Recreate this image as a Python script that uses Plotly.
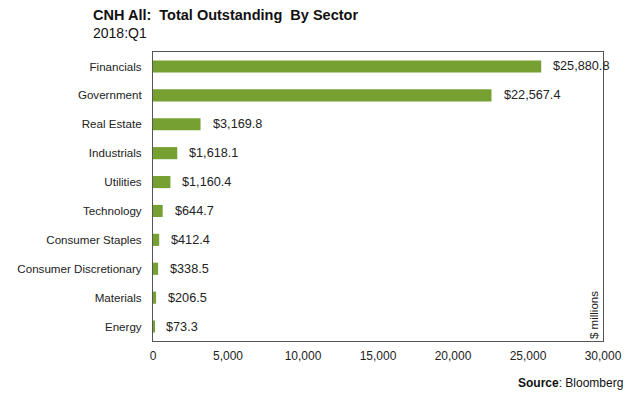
import plotly.graph_objects as go

sectors = [
    "Financials",
    "Government",
    "Real Estate",
    "Industrials",
    "Utilities",
    "Technology",
    "Consumer Staples",
    "Consumer Discretionary",
    "Materials",
    "Energy",
]
outstanding = [25880.8, 22567.4, 3169.8, 1618.1, 1160.4, 644.7, 412.4, 338.5, 206.5, 73.3]
x_ticks = [0, 5000, 10000, 15000, 20000, 25000, 30000]

font = "Liberation Sans, Arial, sans-serif"
green = "#77a033"
frame = "#555555"

fig = go.Figure(
    go.Bar(
        x=outstanding,
        y=sectors,
        orientation="h",
        width=0.42,
        marker=dict(color=green, line=dict(width=0)),
        hoverinfo="skip",
    )
)

for s, v in zip(sectors, outstanding):
    fig.add_annotation(
        x=v, y=s, text=f"${v:,.1f}", showarrow=False,
        xanchor="left", xshift=10, font=dict(size=12.7, color="#222222"),
    )

fig.add_annotation(
    xref="paper", yref="paper", x=1, y=0, text="$ millions", textangle=-90,
    showarrow=False, xanchor="right", yanchor="bottom", xshift=-1,
    font=dict(size=11.5, color="#222222"),
)
fig.add_annotation(
    xref="paper", yref="paper", x=-0.138, y=1.128, xanchor="left", yanchor="middle",
    text="<b>CNH All:  Total Outstanding  By Sector</b>", showarrow=False,
    font=dict(size=14.5, color="#111111"),
)
fig.add_annotation(
    xref="paper", yref="paper", x=-0.138, y=1.066, xanchor="left", yanchor="middle",
    text="2018:Q1", showarrow=False, font=dict(size=14, color="#111111"),
)
fig.add_annotation(
    xref="paper", yref="paper", x=1.049, y=-0.145, xanchor="right", yanchor="middle",
    text="<b>Source</b>: Bloomberg", showarrow=False, font=dict(size=12, color="#111111"),
)

fig.update_xaxes(
    range=[0, 30000], tickvals=x_ticks, tickformat=",d", showgrid=False,
    zeroline=False, showline=True, linecolor=frame, linewidth=1, mirror=True,
    ticks="", ticklabelstandoff=4, automargin=False,
    tickfont=dict(size=12, color="#222222"),
)
fig.update_yaxes(
    autorange="reversed", showgrid=False, showline=True, linecolor=frame,
    linewidth=1, mirror=True, ticks="", ticklabelstandoff=8, automargin=False,
    tickfont=dict(size=11.6, color="#222222"),
)
# the page adds an 8px body margin, so the plot box is placed 8px up and left
fig.update_layout(
    width=636, height=396,
    margin=dict(l=145, r=41, t=44, b=63),
    plot_bgcolor="white", paper_bgcolor="white",
    font=dict(family=font), showlegend=False,
)

fig.write_html("out.html")
